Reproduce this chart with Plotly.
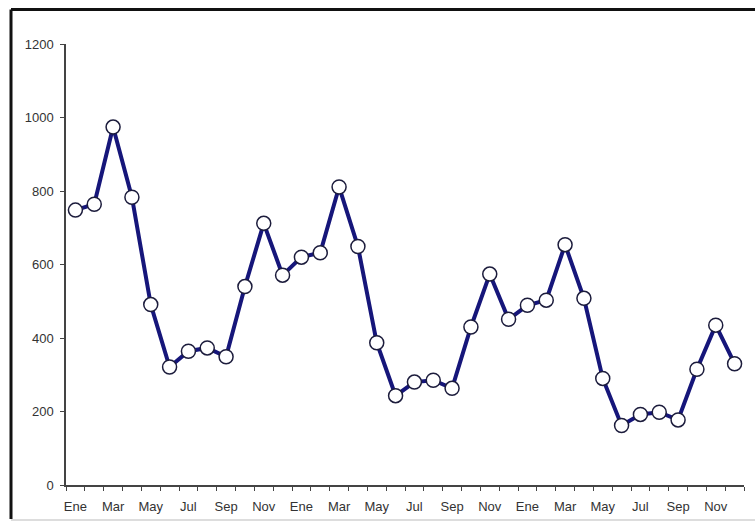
import plotly.graph_objects as go

# Monthly series over three years
month_labels = ["Ene", "Feb", "Mar", "Abr", "May", "Jun",
                "Jul", "Ago", "Sep", "Oct", "Nov", "Dic"] * 3
values = [
    748, 764, 974, 783, 491, 321, 364, 373, 349, 540, 712, 571,
    620, 632, 811, 649, 387, 243, 280, 285, 263, 430, 574, 451,
    489, 503, 654, 508, 290, 162, 192, 198, 177, 315, 435, 330,
]
y_ticks = [0, 200, 400, 600, 800, 1000, 1200]

W, H = 755, 525
ML, MR, MT, MB = 66, 11, 44, 40

x_idx = list(range(len(values)))

fig = go.Figure()
fig.add_trace(go.Scatter(
    x=x_idx,
    y=values,
    mode="lines+markers",
    line=dict(color="#16167a", width=4),
    marker=dict(symbol="circle", size=14, color="white",
                line=dict(color="#1c1c3c", width=1.5)),
    showlegend=False,
    hoverinfo="skip",
))

# label every other month, ticks on category boundaries
label_vals = x_idx[::2]
label_text = month_labels[::2]

tick_font = dict(family="Liberation Sans, Arial", size=13, color="#333333")

fig.update_xaxes(
    range=[-0.5, len(values) - 0.5],
    tickmode="array",
    tickvals=label_vals,
    ticktext=label_text,
    ticks="",
    ticklabelstandoff=9,
    showline=True,
    linecolor="#444444",
    linewidth=1.5,
    showgrid=False,
    zeroline=False,
    tickfont=tick_font,
    minor=dict(tick0=-0.5, dtick=1, ticks="outside", ticklen=4,
               tickcolor="#444444", tickwidth=1, showgrid=False),
)
fig.update_yaxes(
    range=[0, 1200],
    tickmode="array",
    tickvals=y_ticks,
    ticks="outside",
    ticklen=4,
    tickcolor="#444444",
    ticklabelstandoff=4,
    showline=True,
    linecolor="#444444",
    linewidth=1.5,
    showgrid=False,
    zeroline=False,
    tickfont=tick_font,
)

# frame around the chart (left and top edges dark, bottom edge faint)
pw = W - ML - MR
ph = H - MT - MB
def px_x(p):
    return (p - ML) / pw
def px_y(p):
    return (H - MB - p) / ph

fig.add_shape(type="line", xref="paper", yref="paper",
              x0=px_x(11), x1=px_x(W + 5), y0=px_y(9.5), y1=px_y(9.5),
              line=dict(color="#111111", width=3))
fig.add_shape(type="line", xref="paper", yref="paper",
              x0=px_x(11), x1=px_x(11), y0=px_y(9.5), y1=px_y(519),
              line=dict(color="#111111", width=3))
fig.add_shape(type="line", xref="paper", yref="paper",
              x0=px_x(11), x1=px_x(W + 5), y0=px_y(520), y1=px_y(520),
              line=dict(color="#dddddd", width=2))

fig.update_layout(
    width=W,
    height=H,
    margin=dict(l=ML, r=MR, t=MT, b=MB),
    paper_bgcolor="white",
    plot_bgcolor="white",
)

fig.write_html("out.html")
